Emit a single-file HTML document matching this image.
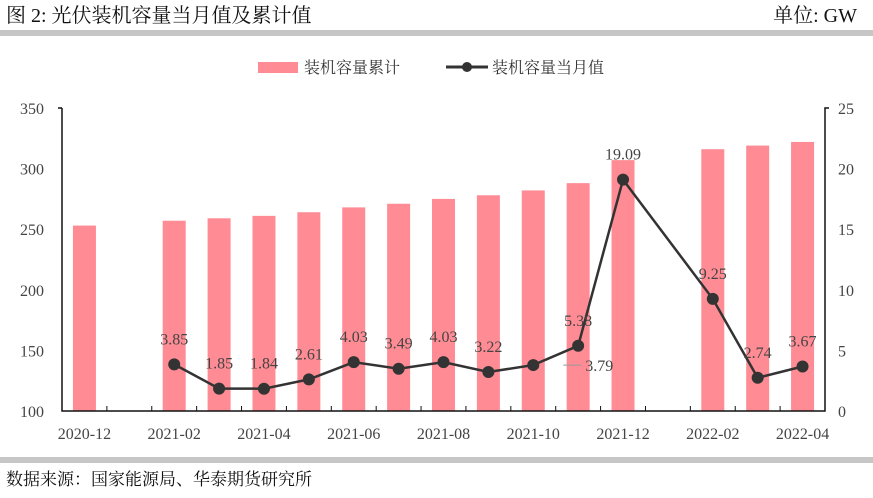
<!DOCTYPE html>
<html><head><meta charset="utf-8"><style>
body{margin:0;background:#fff;width:873px;height:493px;overflow:hidden;font-family:"Liberation Serif","Noto Serif CJK SC",serif;}
svg text{font-family:"Liberation Serif","Noto Serif CJK SC",serif;}
</style></head><body>
<svg width="873" height="493">
<text x="6" y="22" font-size="20" fill="#111">图 2:  光伏装机容量当月值及累计值</text>
<text x="857" y="22" font-size="20" fill="#111" text-anchor="end">单位:  GW</text>
<rect x="0" y="30" width="873" height="6" fill="#c6c6c6"/>
<rect x="0" y="457" width="873" height="6" fill="#c6c6c6"/>
<text x="6" y="485" font-size="17" fill="#111">数据来源：国家能源局、华泰期货研究所</text>
<g>
<rect x="258" y="62" width="40" height="11" fill="#ff8c94"/>
<text x="304" y="73" font-size="16" fill="#333">装机容量累计</text>
<line x1="446" y1="67" x2="488" y2="67" stroke="#333" stroke-width="3"/>
<circle cx="467" cy="67" r="5" fill="#333"/>
<text x="492" y="73" font-size="16" fill="#333">装机容量当月值</text>
</g>
<g id="plot"></g>
</svg>
<script>
const categories=["2020-12","2021-01","2021-02","2021-03","2021-04","2021-05","2021-06","2021-07","2021-08","2021-09","2021-10","2021-11","2021-12","2022-01","2022-02","2022-03","2022-04"];
const cumulative=[253,null,257,259,261,264,268,271,275,278,282,288,307,null,316,319,322];
const monthly=[null,null,3.85,1.85,1.84,2.61,4.03,3.49,4.03,3.22,3.79,5.38,19.09,null,9.25,2.74,3.67];
const leftTicks=[100,150,200,250,300,350];
const rightTicks=[0,5,10,15,20,25];
const xLabelIdx=[0,2,4,6,8,10,12,14,16];
const NS="http://www.w3.org/2000/svg";
const g=document.getElementById('plot');
const X0=62,X1=825,Y0=411,Y1=108;
const step=(X1-X0)/categories.length;
const xc=i=>X0+step*(i+0.5);
const yl=v=>Y0-(v-100)/250*(Y0-Y1);
const yr=v=>Y0-v/25*(Y0-Y1);
function mk(t,a){const e=document.createElementNS(NS,t);for(const k in a)e.setAttribute(k,a[k]);g.appendChild(e);return e;}
cumulative.forEach((v,i)=>{if(v==null)return;
const r=mk('rect',{x:xc(i)-11.5,y:yl(v),width:23,height:Y0-yl(v),fill:'#ff8c94'});

});
let a=mk('path',{d:`M${X0} ${Y1}h-4M${X0} ${Y1}V${Y0}H${X1}V${Y1}h4`,stroke:'#111',fill:'none','stroke-width':1.5});


for(let i=1;i<categories.length;i++){mk('line',{x1:X0+step*i,x2:X0+step*i,y1:Y0,y2:Y0-5,stroke:'#111'});}
leftTicks.forEach(v=>{const t=mk('text',{x:44,y:yl(v)+6,'font-size':16,fill:'#444','text-anchor':'end'});t.textContent=v;

});
rightTicks.forEach(v=>{const t=mk('text',{x:838,y:yr(v)+6,'font-size':16,fill:'#444'});t.textContent=v;

});
xLabelIdx.forEach(i=>{const t=mk('text',{x:xc(i),y:439,'font-size':16,fill:'#444','text-anchor':'middle'});t.textContent=categories[i];

});
const pts=monthly.map((v,i)=>v==null?null:[xc(i),yr(v),v,i]).filter(p=>p);
const ln=mk('polyline',{points:pts.map(p=>p[0]+','+p[1]).join(' '),fill:'none',stroke:'#333','stroke-width':2.5});


pts.forEach(p=>{const c=mk('circle',{cx:p[0],cy:p[1],r:6,fill:'#333'});


let tx=p[0],ty=p[1]-20,anchor='middle';
if(categories[p[3]]==='2021-10'){
mk('line',{x1:p[0]+30,x2:p[0]+48,y1:p[1],y2:p[1],stroke:'#999'});
tx=p[0]+52;ty=p[1]+6;anchor='start';}
const t=mk('text',{x:tx,y:ty,'font-size':16,fill:'#444','text-anchor':anchor});t.textContent=p[2].toFixed(2);

});
</script>
</body></html>
